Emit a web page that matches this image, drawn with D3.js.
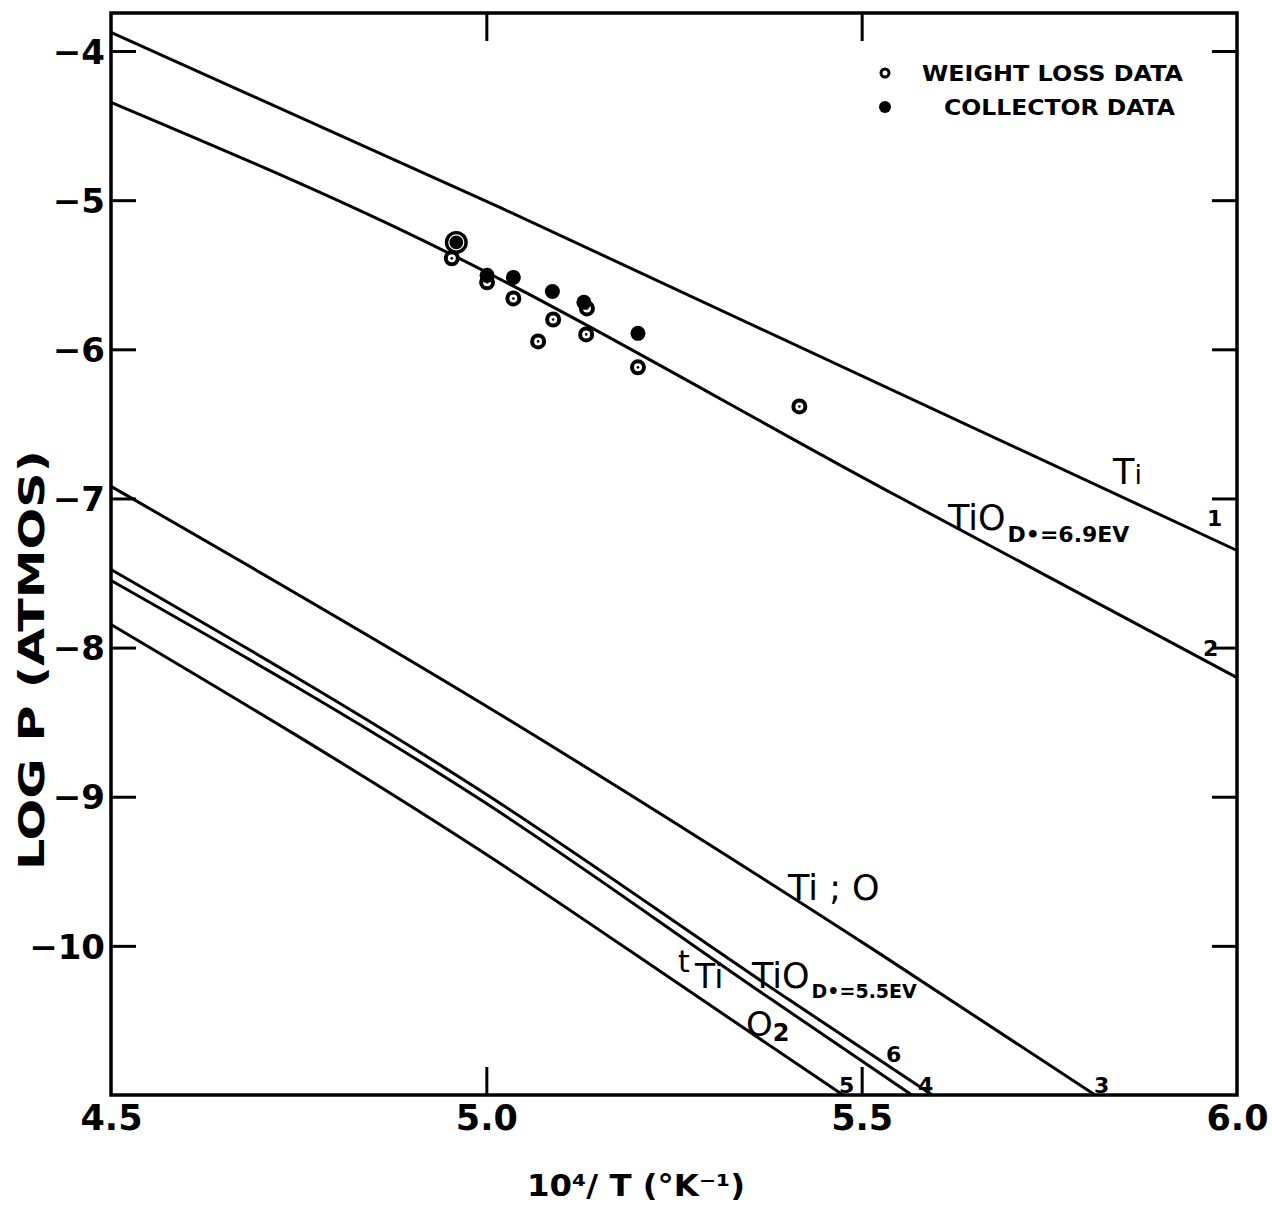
<!DOCTYPE html>
<meta charset="utf-8">
<script src="https://d3js.org/d3.v7.min.js"></script>
<style>
  body { margin: 0; background: #fff; }
  text { fill: #000; }
</style>
<div id="chart"></div>
<script>
// axis ticks
var xTicks = [4.5, 5.0, 5.5, 6.0];
var xInnerTicks = [5.0, 5.5];
var yTicks = [-4, -5, -6, -7, -8, -9, -10];

// curves as [10^4/T, log P]
var curveTi    = [[4.5, -3.875], [5.018, -5.048], [6.0, -7.349]];
var curveTiO69 = [[4.5, -4.344], [4.885, -5.196], [5.551, -6.994], [6.0, -8.201]];
var curveTiO   = [[4.5, -6.919], [4.992, -8.368], [5.524, -10.052], [5.811, -11.0]];
var curveTiO55 = [[4.5, -7.476], [4.992, -8.958], [5.405, -10.367], [5.594, -11.0]];
var curvetTi   = [[4.5, -7.550], [4.992, -9.019], [5.382, -10.367], [5.567, -11.0]];
var curveO2    = [[4.5, -7.845], [4.992, -9.361], [5.289, -10.367], [5.475, -11.0]];
var curves = [curveTi, curveTiO69, curveTiO, curveTiO55, curvetTi, curveO2];

// measured points
var weightLossX = [4.954, 5.001, 5.036, 5.089, 5.134, 5.069, 5.133, 5.202, 5.417];
var weightLossY = [-5.390, -5.551, -5.659, -5.800, -5.726, -5.947, -5.900, -6.121, -6.383];
var collectorX = [4.960, 5.001, 5.036, 5.088, 5.130, 5.202];
var collectorY = [-5.283, -5.504, -5.518, -5.612, -5.685, -5.893];

var W = 1272, H = 1207;
var margin = {top: 13, right: 35, bottom: 112, left: 111};
var width = 1237 - margin.left,
    height = 1095 - margin.top;

var svg = d3.select("#chart").append("svg")
    .attr("width", W)
    .attr("height", H)
  .append("g")
    .attr("transform", "translate(" + margin.left + "," + margin.top + ")");

var x = d3.scaleLinear().domain([4.5, 6.0]).range([0, width]);
var y = d3.scaleLinear().domain([-11, -3.745]).range([height, 0]);

var bold = "'DejaVu Sans', sans-serif";

// left axis, ticks pointing inwards
svg.append("g")
    .call(d3.axisLeft(y).tickValues(yTicks).tickSize(-25).tickPadding(6))
    .call(function(g) { g.select(".domain").remove(); })
    .call(function(g) {
      g.selectAll("line").attr("stroke-width", 3);
      g.selectAll("text")
        .style("font-family", bold).style("font-weight", "bold")
        .style("font-size", "34px").attr("dy", "0.36em");
    });

// right axis
svg.append("g")
    .attr("transform", "translate(" + width + ",0)")
    .call(d3.axisRight(y).tickValues(yTicks).tickSize(-25).tickFormat(""))
    .call(function(g) { g.select(".domain").remove(); g.selectAll("line").attr("stroke-width", 3); });

// bottom axis
svg.append("g")
    .attr("transform", "translate(0," + height + ")")
    .call(d3.axisBottom(x).tickValues(xTicks).tickSize(-28).tickPadding(10).tickFormat(d3.format(".1f")))
    .call(function(g) {
      g.select(".domain").remove();
      g.selectAll("line").attr("stroke-width", 3)
        .style("opacity", function(d) { return xInnerTicks.indexOf(d) >= 0 ? 1 : 0; });
      g.selectAll("text")
        .style("font-family", bold).style("font-weight", "bold")
        .style("font-size", "35px");
    });

// top axis
svg.append("g")
    .call(d3.axisTop(x).tickValues(xInnerTicks).tickSize(-28).tickFormat(""))
    .call(function(g) { g.select(".domain").remove(); g.selectAll("line").attr("stroke-width", 3); });

// frame
svg.append("rect")
    .attr("width", width).attr("height", height)
    .attr("fill", "none").attr("stroke", "#000").attr("stroke-width", 3.5);

// curves
var line = d3.line()
    .curve(d3.curveMonotoneX)
    .x(function(d) { return x(d[0]); })
    .y(function(d) { return y(d[1]); });

svg.selectAll(".curve")
  .data(curves)
  .enter().append("path")
    .attr("class", "curve")
    .attr("d", line)
    .attr("fill", "none")
    .attr("stroke", "#000")
    .attr("stroke-width", 3);

// weight loss points (ringed)
var wl = svg.selectAll(".wl")
  .data(weightLossX)
  .enter().append("g")
    .attr("class", "wl")
    .attr("transform", function(d, i) { return "translate(" + x(d) + "," + y(weightLossY[i]) + ")"; });
wl.append("circle").attr("r", 6).attr("fill", "#fff").attr("stroke", "#000").attr("stroke-width", 4);
wl.append("circle").attr("r", 1.3).attr("fill", "#000");

// collector points (filled), the first one is an overlapping cluster drawn large
var col = svg.selectAll(".col")
  .data(collectorX)
  .enter().append("g")
    .attr("class", "col")
    .attr("transform", function(d, i) { return "translate(" + x(d) + "," + y(collectorY[i]) + ")"; });
col.append("circle")
    .attr("r", function(d, i) { return i === 0 ? 11.5 : 7.5; })
    .attr("fill", "#000");
col.filter(function(d, i) { return i === 0; })
  .append("circle").attr("r", 7.5).attr("fill", "none").attr("stroke", "#fff").attr("stroke-width", 1.2);

// legend
var legend = svg.append("g").attr("transform", "translate(" + (885 - margin.left) + "," + (73 - margin.top) + ")");
legend.append("circle").attr("r", 4).attr("fill", "#fff").attr("stroke", "#000").attr("stroke-width", 3);
legend.append("circle").attr("cy", 34).attr("r", 6).attr("fill", "#000");
legend.append("text").attr("x", 37).attr("y", 8)
    .attr("textLength", 261).attr("lengthAdjust", "spacingAndGlyphs")
    .style("font-family", bold).style("font-weight", "bold").style("font-size", "21px")
    .text("WEIGHT LOSS DATA");
legend.append("text").attr("x", 59).attr("y", 42)
    .attr("textLength", 231).attr("lengthAdjust", "spacingAndGlyphs")
    .style("font-family", bold).style("font-weight", "bold").style("font-size", "21px")
    .text("COLLECTOR DATA");

// curve labels, placed in page pixels
var lab = svg.append("g").attr("transform", "translate(" + (-margin.left) + "," + (-margin.top) + ")")
    .style("font-family", "'DejaVu Sans', sans-serif");

function species(px, py, main, sub, subSize) {
  var t = lab.append("text").attr("x", px).attr("y", py).style("font-size", "35px");
  t.append("tspan").text(main);
  if (sub) {
    t.append("tspan").attr("dy", "0.55em").attr("dx", 2)
      .style("font-size", subSize || "22px").style("font-weight", "bold").text(sub);
  }
  return t;
}

// Ti
lab.append("text").attr("x", 1113).attr("y", 484).style("font-size", "35px")
  .text("T").append("tspan").style("font-size", "27px").text("i");
// TiO, De = 6.9 eV
species(948, 530, "TiO", "D\u2022=6.9EV", "22px");
// Ti ; O
lab.append("text").attr("x", 788).attr("y", 900).style("font-size", "35px").text("Ti ; O");
// tTi
lab.append("text").attr("x", 678).attr("y", 972).style("font-size", "30px").text("t");
lab.append("text").attr("x", 695).attr("y", 988).style("font-size", "33px").text("Ti");
// TiO, De = 5.5 eV
species(752, 988, "TiO", "D\u2022=5.5EV", "19px");
// O2
lab.append("text").attr("x", 746).attr("y", 1036).style("font-size", "34px")
  .text("O").append("tspan").attr("dy", "0.2em").style("font-weight", "bold").style("font-size", "24px").text("2");

// curve numbers
var nums = [["1", 1207, 526], ["2", 1203, 656], ["3", 1094, 1093], ["4", 918, 1093], ["5", 839, 1093], ["6", 886, 1062]];
lab.selectAll(".num")
  .data(nums)
  .enter().append("text")
    .attr("class", "num")
    .attr("x", function(d) { return d[1]; })
    .attr("y", function(d) { return d[2]; })
    .style("font-weight", "bold").style("font-size", "22px")
    .text(function(d) { return d[0]; });

// axis titles
lab.append("text")
    .attr("x", 636).attr("y", 1196)
    .attr("text-anchor", "middle")
    .attr("textLength", 218).attr("lengthAdjust", "spacingAndGlyphs")
    .style("font-family", "'DejaVu Sans Condensed', 'DejaVu Sans', sans-serif")
    .style("font-weight", "bold").style("font-size", "30px")
    .text("10\u2074/ T (\u00b0K\u207b\u00b9)");

lab.append("text")
    .attr("transform", "translate(44,660) rotate(-90)")
    .attr("text-anchor", "middle")
    .attr("textLength", 420).attr("lengthAdjust", "spacingAndGlyphs")
    .style("font-family", bold).style("font-weight", "bold").style("font-size", "36px")
    .text("LOG P (ATMOS)");
</script>
